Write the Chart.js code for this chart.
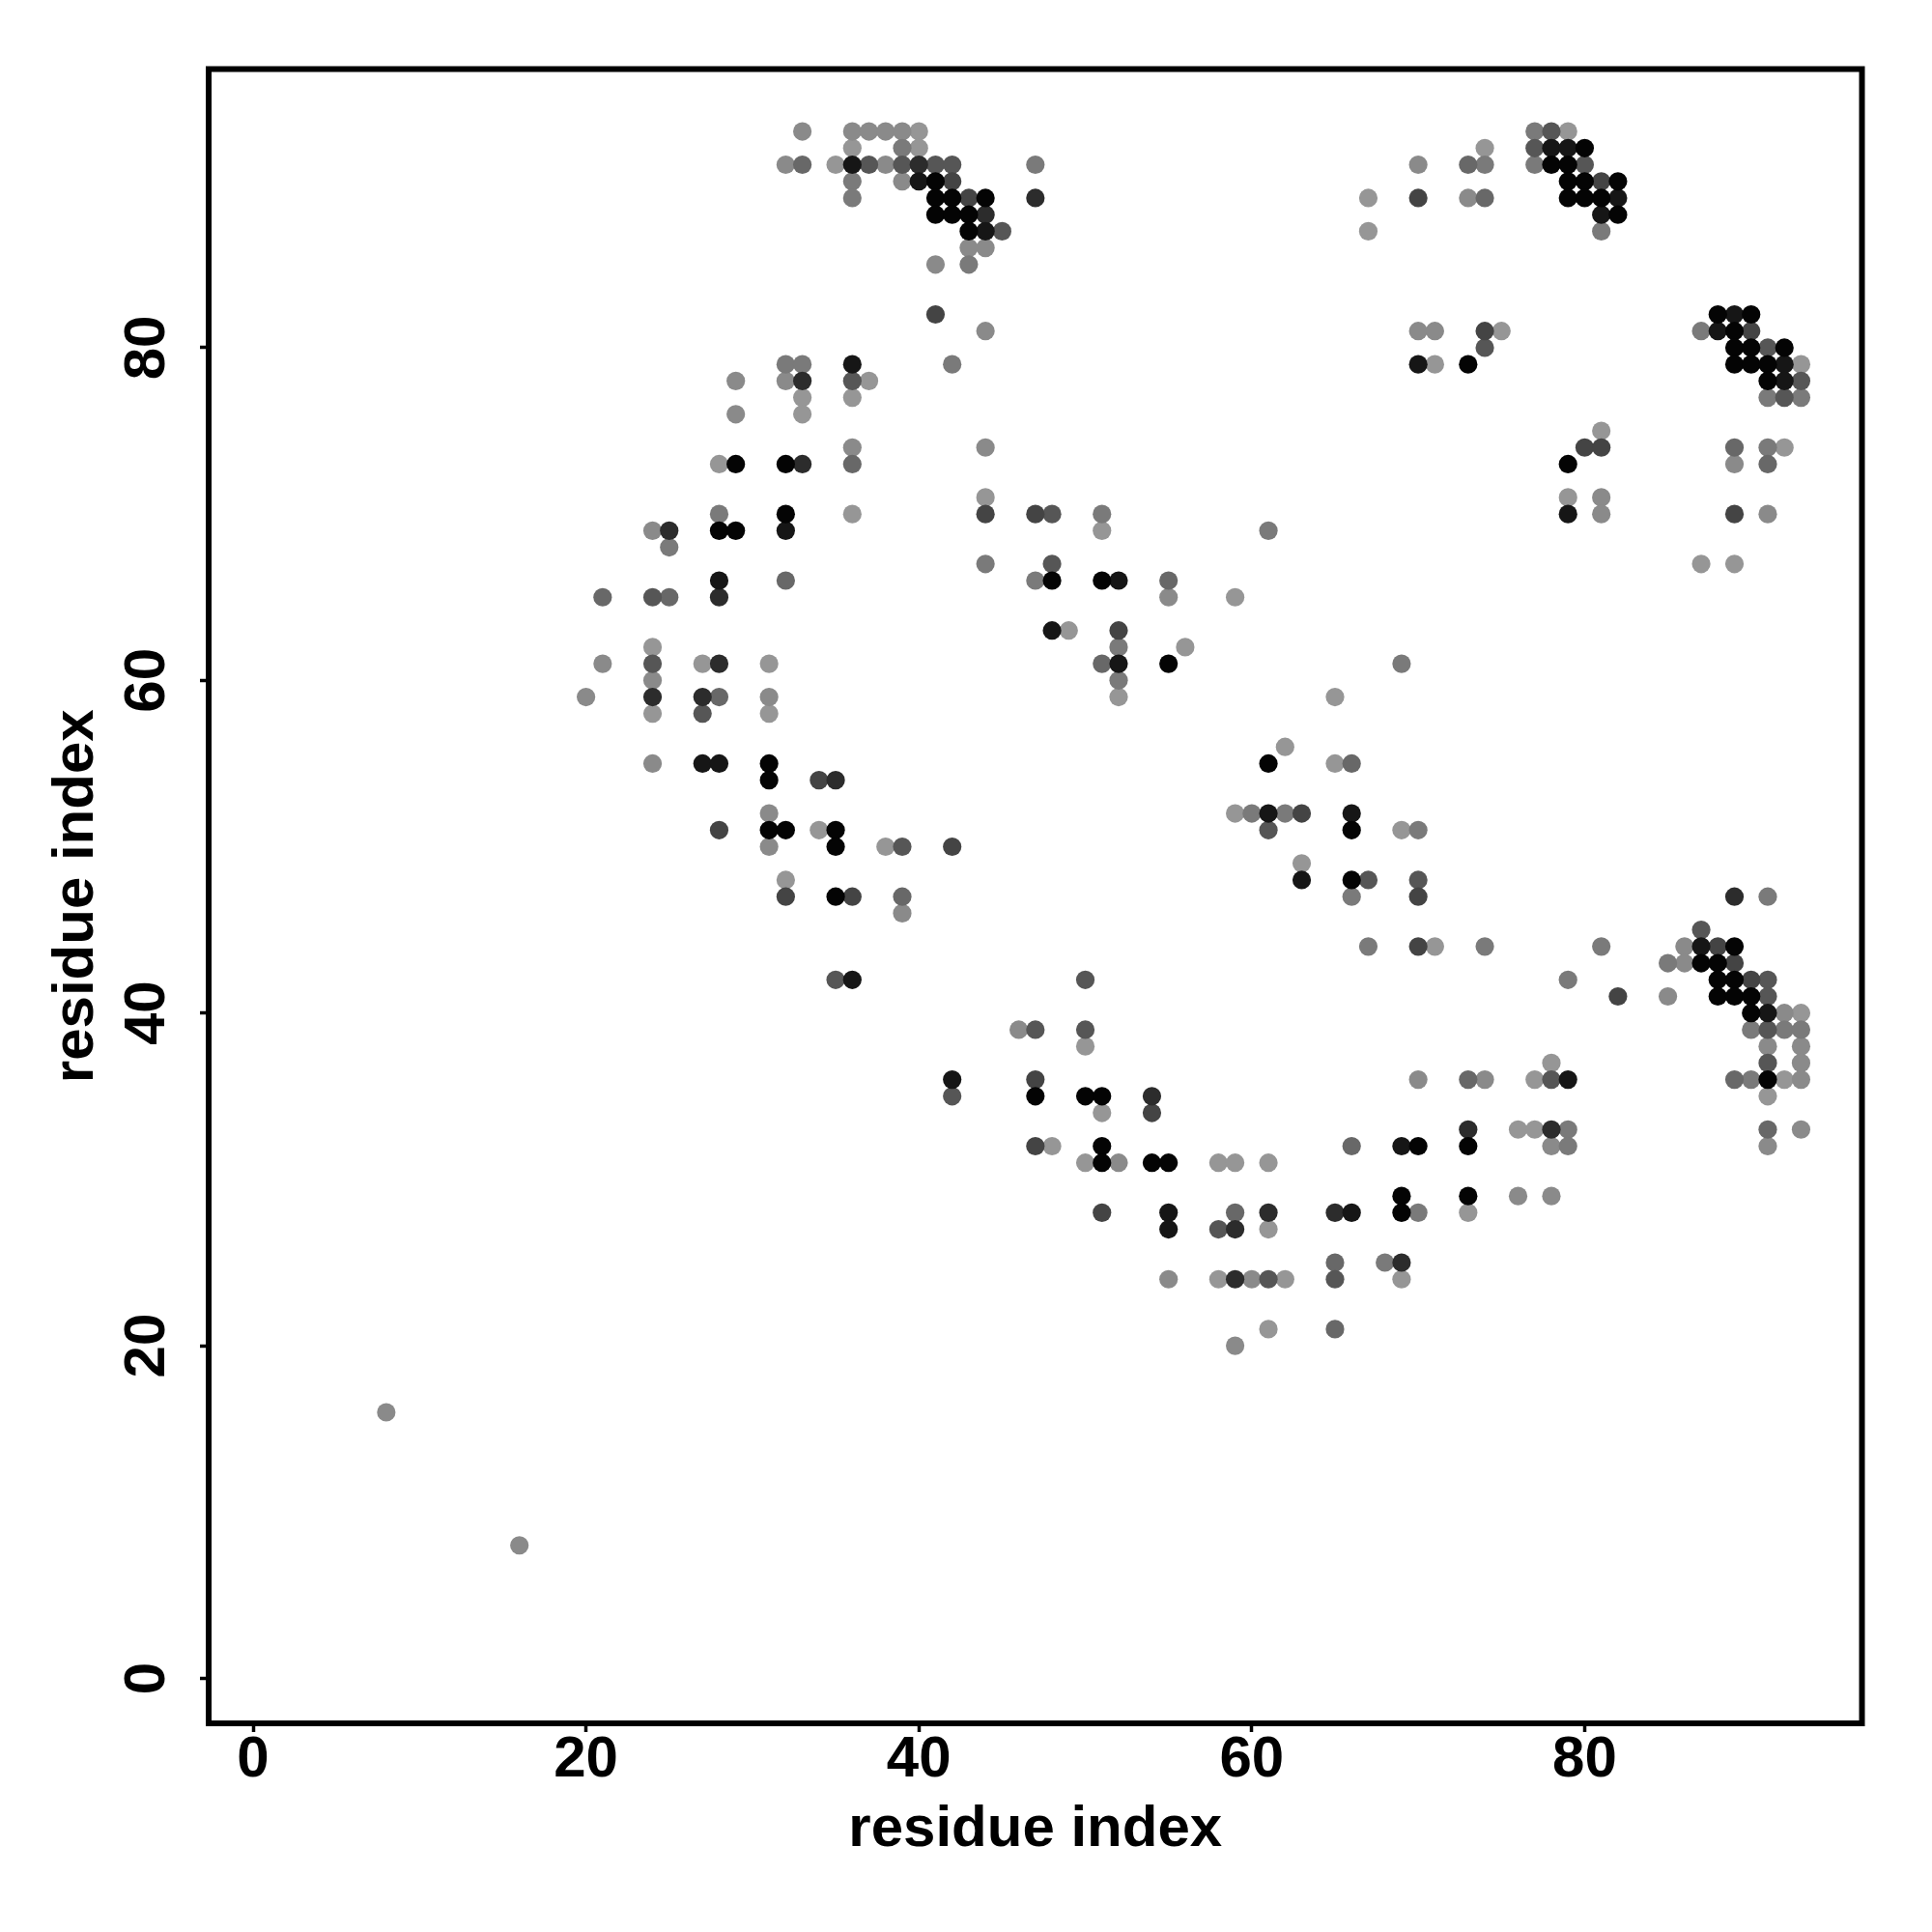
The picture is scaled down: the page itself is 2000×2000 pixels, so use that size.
<!DOCTYPE html>
<html>
<head>
<meta charset="utf-8">
<title>Residue contact map</title>
<script src="https://cdn.jsdelivr.net/npm/chart.js@4/dist/chart.umd.js"></script>
<style>html,body{margin:0;padding:0;background:#fff}canvas{display:block}</style>
</head>
<body>
<canvas id="c" width="2000" height="2000"></canvas>
<script>
const axisTicks = [0, 20, 40, 60, 80];
const axisTitle = "residue index";

// Tone classes, dark to light (contact strength)
const toneGray = [4, 22, 44, 68, 86, 104, 122, 138, 150];

const residueX = [
33,36,37,38,39,40,77,78,79,
36,39,40,74,77,78,79,80,
32,33,35,36,37,38,39,40,41,42,47,70,73,74,77,78,79,80,
36,39,40,41,42,79,80,81,82,
36,41,42,43,44,47,67,70,73,74,79,80,81,82,
41,42,43,44,81,82,
43,44,45,67,81,
43,44,
41,43,
41,88,89,90,
44,70,71,74,75,87,88,89,90,
74,89,90,91,92,
32,33,36,42,70,71,73,89,90,91,92,93,
29,32,33,36,37,91,92,93,
33,36,91,92,93,
29,33,
81,
36,44,80,81,89,91,92,
28,29,32,33,36,79,89,91,
44,79,81,
28,32,36,44,47,48,51,79,81,89,91,
24,25,28,29,32,51,61,
25,
44,48,87,89,
28,32,47,48,51,52,55,
21,24,25,28,55,59,
48,49,52,
24,52,56,
21,24,27,28,31,51,52,55,69,
24,52,
20,24,27,28,31,52,65,
24,27,31,
62,
24,27,28,31,61,65,66,
31,34,35,
31,59,60,61,62,63,66,
28,31,32,34,35,61,66,69,70,
31,35,38,39,42,
63,
32,63,66,67,70,
32,35,36,39,66,70,89,91,
39,
87,
67,70,71,74,81,86,87,88,89,
85,86,87,88,89,
35,36,50,79,88,89,90,91,
82,85,88,89,90,91,
90,91,92,93,
46,47,50,90,91,92,93,
50,91,93,
78,91,93,
42,47,70,73,74,77,78,79,89,90,91,92,93,
42,47,50,51,54,91,
51,54,
73,76,77,78,79,91,93,
47,48,51,66,69,70,73,78,79,91,
50,51,52,54,55,58,59,61,
69,73,76,78,
51,55,59,61,65,66,69,70,73,
55,58,59,61,
65,68,69,
55,58,59,60,61,62,65,69,
61,65,
59,
8,
16
];

const residueY = [
93,93,93,93,93,93,93,93,93,
92,92,92,92,92,92,92,92,
91,91,91,91,91,91,91,91,91,91,91,91,91,91,91,91,91,91,
90,90,90,90,90,90,90,90,90,
89,89,89,89,89,89,89,89,89,89,89,89,89,89,
88,88,88,88,88,88,
87,87,87,87,87,
86,86,
85,85,
82,82,82,82,
81,81,81,81,81,81,81,81,81,
80,80,80,80,80,
79,79,79,79,79,79,79,79,79,79,79,79,
78,78,78,78,78,78,78,78,
77,77,77,77,77,
76,76,
75,
74,74,74,74,74,74,74,
73,73,73,73,73,73,73,73,
71,71,71,
70,70,70,70,70,70,70,70,70,70,70,
69,69,69,69,69,69,69,
68,
67,67,67,67,
66,66,66,66,66,66,66,
65,65,65,65,65,65,
63,63,63,
62,62,62,
61,61,61,61,61,61,61,61,61,
60,60,
59,59,59,59,59,59,59,
58,58,58,
56,
55,55,55,55,55,55,55,
54,54,54,
52,52,52,52,52,52,52,
51,51,51,51,51,51,51,51,51,
50,50,50,50,50,
49,
48,48,48,48,48,
47,47,47,47,47,47,47,47,
46,
45,
44,44,44,44,44,44,44,44,44,
43,43,43,43,43,
42,42,42,42,42,42,42,42,
41,41,41,41,41,41,
40,40,40,40,
39,39,39,39,39,39,39,
38,38,38,
37,37,37,
36,36,36,36,36,36,36,36,36,36,36,36,36,
35,35,35,35,35,35,
34,34,
33,33,33,33,33,33,33,
32,32,32,32,32,32,32,32,32,32,
31,31,31,31,31,31,31,31,
29,29,29,29,
28,28,28,28,28,28,28,28,28,
27,27,27,27,
25,25,25,
24,24,24,24,24,24,24,24,
21,21,
20,
16,
8
];

const contactTone = [
7,7,7,7,7,8,6,4,8,
8,6,8,8,4,1,1,0,
7,5,8,1,4,7,4,2,4,4,6,7,5,6,6,0,0,4,
6,7,1,0,3,0,0,3,0,
6,0,0,3,0,2,8,3,7,5,0,0,0,1,
0,0,0,2,1,0,
0,1,4,8,6,
7,7,
7,6,
3,0,1,0,
7,7,7,3,8,6,1,0,3,
4,0,0,4,0,
6,6,1,6,1,8,0,0,0,0,1,8,
7,7,2,4,8,0,1,4,
8,8,6,4,6,
7,8,
8,
7,7,3,3,5,6,8,
8,0,0,2,5,0,7,5,
8,8,7,
6,0,8,3,3,4,6,1,7,3,7,
7,2,0,0,1,8,6,
6,
6,4,8,8,
1,5,6,0,0,1,5,
5,4,5,2,7,8,
1,8,3,
8,6,8,
7,4,8,2,8,5,1,0,6,
7,6,
7,2,2,5,7,8,8,
8,4,8,
8,
7,1,1,0,0,8,5,
0,3,2,
7,8,6,1,6,3,1,
3,0,0,8,0,4,0,8,6,
7,0,8,4,3,
8,
8,1,0,4,4,
3,0,3,5,6,3,2,6,
7,
4,
6,3,8,6,6,7,1,3,0,
6,7,0,0,3,
4,1,4,6,0,0,3,4,
3,7,0,0,0,4,
0,1,7,8,
7,4,4,6,4,6,6,
8,7,7,
8,4,7,
1,3,7,5,7,8,4,1,5,6,0,8,7,
4,0,0,0,2,8,
8,3,
2,8,8,2,6,5,7,
3,8,0,5,1,0,0,7,6,7,
8,0,7,0,0,8,8,8,
0,0,7,7,
3,1,5,2,2,1,0,6,8,
1,4,2,8,
5,6,2,
7,8,2,7,4,8,4,8,
8,5,
7,
7,
7
];

const FONT = "'Liberation Sans', Arial, Helvetica, sans-serif";
const gray = g => `rgb(${g},${g},${g})`;

// One dataset per tone; darkest gets drawn last so it sits on top.
const datasets = toneGray.map((g, tone) => ({
  label: "tone " + tone,
  data: residueX
    .map((x, i) => ({ x, y: residueY[i], tone: contactTone[i] }))
    .filter(p => p.tone === tone),
  backgroundColor: gray(g),
  borderWidth: 0,
  pointRadius: 9.6,
  pointHoverRadius: 9.6,
  order: tone
}));

const framePlugin = {
  id: "frame",
  afterDraw(chart) {
    const { ctx, chartArea: a } = chart;
    ctx.save();
    ctx.strokeStyle = "#000";
    ctx.lineWidth = 6;
    ctx.lineJoin = "miter";
    ctx.strokeRect(a.left, a.top, a.right - a.left, a.bottom - a.top);
    ctx.restore();
  }
};

const axisCommon = {
  type: "linear",
  afterBuildTicks(scale) { scale.ticks = axisTicks.map(value => ({ value })); },
  border: { display: false },
  grid: { display: true, drawOnChartArea: false, drawTicks: true, tickLength: 9, tickWidth: 3.5, tickColor: "#000" }
};

new Chart(document.getElementById("c"), {
  type: "scatter",
  data: { datasets },
  plugins: [framePlugin],
  options: {
    responsive: false,
    animation: false,
    events: [],
    layout: { padding: { top: 71.5, right: 72.5, left: 0, bottom: 0 } },
    plugins: { legend: { display: false }, tooltip: { enabled: false }, title: { display: false } },
    scales: {
      x: {
        ...axisCommon,
        min: -2.67,
        max: 96.66,
        afterFit(s) { s.height = 216; },
        ticks: { color: "#000", padding: -7, maxRotation: 0, minRotation: 0, font: { family: FONT, weight: "bold", size: 60 } },
        title: { display: true, text: axisTitle, color: "#000", padding: { top: 0, bottom: 70 }, font: { family: FONT, weight: "bold", size: 60 } }
      },
      y: {
        ...axisCommon,
        min: -2.7,
        max: 96.75,
        afterFit(s) { s.width = 216; },
        ticks: { color: "#000", padding: 20, minRotation: 90, maxRotation: 90, crossAlign: "center", font: { family: FONT, weight: "bold", size: 60 } },
        title: { display: true, text: axisTitle, color: "#000", padding: { top: 43, bottom: 0 }, font: { family: FONT, weight: "bold", size: 60 } }
      }
    }
  }
});
</script>
</body>
</html>
